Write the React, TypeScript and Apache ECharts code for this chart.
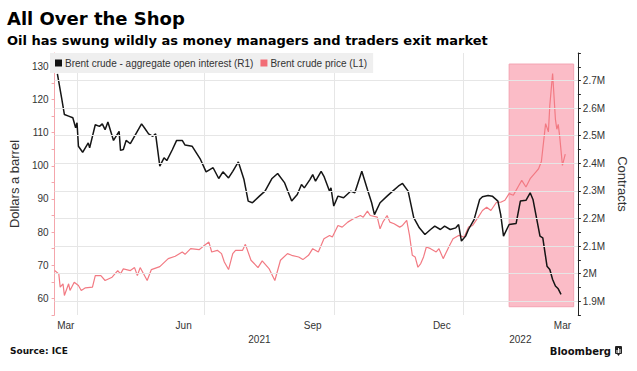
import React, { useEffect, useRef } from "react";
import * as echarts from "echarts";

const START_DATE = "2021-03-16";
const END_DATE = "2022-03-24";

const OI_NAME = "Brent crude - aggregate open interest (R1)";
const PRICE_NAME = "Brent crude price (L1)";

const oiDates = [
  "2021-03-18", "2021-03-21", "2021-03-23", "2021-03-26", "2021-03-29", "2021-03-31",
  "2021-04-01", "2021-04-02", "2021-04-05", "2021-04-09", "2021-04-10", "2021-04-14",
  "2021-04-17", "2021-04-19", "2021-04-21", "2021-04-23", "2021-04-27", "2021-05-01",
  "2021-05-02", "2021-05-04", "2021-05-06", "2021-05-09", "2021-05-17", "2021-05-19",
  "2021-05-22", "2021-05-25", "2021-05-27", "2021-05-30", "2021-06-02", "2021-06-04",
  "2021-06-08", "2021-06-11", "2021-06-15", "2021-06-17", "2021-06-22", "2021-06-28",
  "2021-07-02", "2021-07-07", "2021-07-11", "2021-07-14", "2021-07-18", "2021-07-21",
  "2021-07-25", "2021-07-29", "2021-08-01", "2021-08-04", "2021-08-09", "2021-08-13",
  "2021-08-18", "2021-08-22", "2021-08-27", "2021-09-01", "2021-09-05", "2021-09-08",
  "2021-09-10", "2021-09-14", "2021-09-16", "2021-09-18", "2021-09-22", "2021-09-24",
  "2021-09-28", "2021-09-29", "2021-10-01", "2021-10-04", "2021-10-08", "2021-10-13",
  "2021-10-16", "2021-10-21", "2021-10-25", "2021-10-28", "2021-10-30", "2021-11-03",
  "2021-11-08", "2021-11-12", "2021-11-16", "2021-11-19", "2021-11-23", "2021-11-27",
  "2021-12-01", "2021-12-05", "2021-12-09", "2021-12-12", "2021-12-16", "2021-12-19",
  "2021-12-23", "2021-12-27", "2021-12-29", "2021-12-31", "2022-01-03", "2022-01-05",
  "2022-01-09", "2022-01-13", "2022-01-15", "2022-01-19", "2022-01-22", "2022-01-26",
  "2022-01-28", "2022-01-30", "2022-02-03", "2022-02-08", "2022-02-11", "2022-02-15",
  "2022-02-18", "2022-02-20", "2022-02-25", "2022-02-27", "2022-03-02", "2022-03-04",
  "2022-03-06", "2022-03-08", "2022-03-10", "2022-03-12",
];
// millions of contracts
const oiValues = [
  2.724, 2.637, 2.577, 2.571, 2.565, 2.529,
  2.547, 2.462, 2.44, 2.474, 2.456, 2.54,
  2.534, 2.543, 2.522, 2.55, 2.483, 2.516,
  2.447, 2.45, 2.483, 2.471, 2.543, 2.529,
  2.507, 2.498, 2.507, 2.39, 2.42, 2.41,
  2.45, 2.483, 2.483, 2.466, 2.462, 2.414,
  2.369, 2.384, 2.345, 2.369, 2.347, 2.371,
  2.405, 2.341, 2.263, 2.257, 2.281, 2.299,
  2.345, 2.363, 2.329, 2.263, 2.287, 2.323,
  2.311, 2.341, 2.359, 2.335, 2.371, 2.353,
  2.299, 2.311, 2.245, 2.281, 2.275, 2.299,
  2.293, 2.371, 2.305, 2.257, 2.214, 2.257,
  2.281, 2.299, 2.317, 2.327, 2.299, 2.203,
  2.166, 2.142, 2.16, 2.172, 2.16, 2.172,
  2.16, 2.166, 2.178, 2.118, 2.136, 2.16,
  2.196, 2.269, 2.279, 2.283, 2.281, 2.263,
  2.214, 2.136, 2.178, 2.182, 2.263, 2.266,
  2.293, 2.269, 2.136, 2.13, 2.027, 2.015,
  1.979, 1.955, 1.945, 1.925,
];

const priceDates = [
  "2021-03-16", "2021-03-19", "2021-03-20", "2021-03-22", "2021-03-23", "2021-03-26",
  "2021-03-27", "2021-03-30", "2021-04-02", "2021-04-04", "2021-04-07", "2021-04-12",
  "2021-04-14", "2021-04-18", "2021-04-21", "2021-04-26", "2021-04-30", "2021-05-02",
  "2021-05-04", "2021-05-09", "2021-05-12", "2021-05-14", "2021-05-16", "2021-05-21",
  "2021-05-24", "2021-05-30", "2021-06-05", "2021-06-10", "2021-06-15", "2021-06-17",
  "2021-06-21", "2021-06-27", "2021-06-30", "2021-07-04", "2021-07-06", "2021-07-10",
  "2021-07-13", "2021-07-15", "2021-07-18", "2021-07-21", "2021-07-23", "2021-07-28",
  "2021-07-30", "2021-08-03", "2021-08-08", "2021-08-11", "2021-08-16", "2021-08-20",
  "2021-08-24", "2021-08-29", "2021-09-01", "2021-09-06", "2021-09-09", "2021-09-13",
  "2021-09-16", "2021-09-20", "2021-09-24", "2021-09-28", "2021-09-30", "2021-10-04",
  "2021-10-07", "2021-10-11", "2021-10-15", "2021-10-20", "2021-10-22", "2021-10-25",
  "2021-10-27", "2021-11-01", "2021-11-03", "2021-11-05", "2021-11-08", "2021-11-10",
  "2021-11-13", "2021-11-17", "2021-11-19", "2021-11-22", "2021-11-24", "2021-11-26",
  "2021-11-28", "2021-11-30", "2021-12-02", "2021-12-04", "2021-12-06", "2021-12-09",
  "2021-12-13", "2021-12-15", "2021-12-18", "2021-12-22", "2021-12-25", "2021-12-29",
  "2022-01-02", "2022-01-05", "2022-01-08", "2022-01-12", "2022-01-15", "2022-01-18",
  "2022-01-21", "2022-01-25", "2022-01-28", "2022-01-31", "2022-02-03", "2022-02-06",
  "2022-02-10", "2022-02-12", "2022-02-15", "2022-02-18", "2022-02-22", "2022-02-24",
  "2022-02-26", "2022-03-01", "2022-03-03", "2022-03-04", "2022-03-06", "2022-03-08",
  "2022-03-09", "2022-03-10", "2022-03-11", "2022-03-13", "2022-03-15",
];
// dollars a barrel
const priceValues = [
  68.4, 67.4, 63.4, 64.4, 60.9, 64.4,
  62.4, 64.9, 63.9, 62.4, 63.2, 63.4,
  66.9, 66.9, 65.4, 66.4, 68.4, 67.4,
  68.9, 68.4, 69.3, 66.9, 69.3, 65.4,
  68.7, 69.6, 72.0, 72.7, 74.0, 73.3,
  75.0, 74.7, 75.7, 77.0, 74.0, 74.5,
  73.5, 71.0, 68.7, 73.5, 74.5, 74.5,
  76.3, 71.5, 69.3, 71.3, 68.9, 65.4,
  71.5, 73.5, 73.0, 72.5, 71.7, 73.0,
  75.0, 74.0, 78.0, 79.0, 78.5, 82.0,
  81.5, 83.0, 84.0, 85.0, 84.5, 86.3,
  85.0, 84.5, 81.0, 83.0, 85.0, 83.0,
  82.5, 81.5, 82.0, 83.5, 79.0, 73.0,
  72.5, 69.4, 70.5, 72.5, 75.5, 75.0,
  74.0, 75.0, 72.0, 75.5, 78.0, 79.0,
  78.5, 81.5, 82.0, 84.5, 86.5, 87.5,
  86.5, 89.0, 89.0, 89.6, 91.6, 91.1,
  94.1, 95.6, 93.6, 96.1, 98.1, 99.1,
  101.3, 112.7, 110.2, 118.2, 127.8, 114.0,
  111.0, 112.5, 109.0, 100.1, 103.5,
];

const leftTickLabels = [60, 70, 80, 90, 100, 110, 120, 130];
const rightTickLabels = [1.9, 2, 2.1, 2.2, 2.3, 2.4, 2.5, 2.6, 2.7]; // millions
const labeledMonths = ["Mar", "Jun", "Sep", "Dec"];
const gridMonths = ["Jan", "Apr", "Jul", "Oct"];
const highlightStart = "2022-02-03";
const highlightEnd = "2022-03-21";
const highlightTop = 2.76; // millions, right axis
const highlightBottom = 1.88;

const MONTHS = ["Jan", "Feb", "Mar", "Apr", "May", "Jun", "Jul", "Aug", "Sep", "Oct", "Nov", "Dec"];

function buildDays(start: string, end: string): string[] {
  const out: string[] = [];
  const d = new Date(start + "T00:00:00Z");
  const e = new Date(end + "T00:00:00Z");
  while (d.getTime() <= e.getTime()) {
    out.push(d.toISOString().slice(0, 10));
    d.setUTCDate(d.getUTCDate() + 1);
  }
  return out;
}

const AXIS_FONT = '"Liberation Sans", Arial, sans-serif';
const HEAD_FONT = '"DejaVu Sans", sans-serif';

export default function App() {
  const ref = useRef<HTMLDivElement>(null);

  useEffect(() => {
    if (!ref.current) return;
    const chart = echarts.init(ref.current, undefined, { renderer: "svg" });

    const days = buildDays(START_DATE, END_DATE);
    const last = days.length - 1;

    const monthLabelIdx = new Map<number, string>();
    const yearLabelIdx = new Map<number, string>();
    const gridIdx = new Set<number>();
    const monthStarts: { key: string; idx: number }[] = [];
    const yearStarts: { key: string; idx: number }[] = [];
    days.forEach((d, i) => {
      const ym = d.slice(0, 7);
      const y = d.slice(0, 4);
      if (!monthStarts.length || monthStarts[monthStarts.length - 1].key !== ym) monthStarts.push({ key: ym, idx: i });
      if (!yearStarts.length || yearStarts[yearStarts.length - 1].key !== y) yearStarts.push({ key: y, idx: i });
      const m = MONTHS[parseInt(d.slice(5, 7), 10) - 1];
      if (d.slice(8, 10) === "01" && gridMonths.includes(m)) gridIdx.add(i);
    });
    monthStarts.forEach((ms, k) => {
      const m = MONTHS[parseInt(ms.key.slice(5, 7), 10) - 1];
      if (!labeledMonths.includes(m)) return;
      const end = k + 1 < monthStarts.length ? monthStarts[k + 1].idx : last;
      monthLabelIdx.set(Math.round((ms.idx + end) / 2), m);
    });
    yearStarts.forEach((ys, k) => {
      const end = k + 1 < yearStarts.length ? yearStarts[k + 1].idx : last;
      yearLabelIdx.set(Math.round((ys.idx + end) / 2), ys.key);
    });

    const oiData = oiDates.map((d, i) => [d, oiValues[i] * 1e6]);
    const priceData = priceDates.map((d, i) => [d, priceValues[i]]);

    chart.setOption({
      animation: false,
      backgroundColor: "#ffffff",
      title: {
        text: "All Over the Shop",
        subtext: "Oil has swung wildly as money managers and traders exit market",
        left: 7,
        top: 9,
        padding: 0,
        itemGap: 7,
        textStyle: { fontFamily: HEAD_FONT, fontWeight: "bold", fontSize: 18, color: "#000" },
        subtextStyle: { fontFamily: HEAD_FONT, fontWeight: "bold", fontSize: 13, color: "#000" },
      },
      legend: {
        data: [OI_NAME, PRICE_NAME],
        left: 50,
        top: 53,
        icon: "rect",
        itemWidth: 7,
        itemHeight: 7,
        itemGap: 7,
        padding: [5, 6, 5, 5],
        backgroundColor: "#efefef",
        textStyle: { fontFamily: AXIS_FONT, fontSize: 10, color: "#333", padding: [0, 0, 0, -2] },
        selectedMode: false,
      },
      grid: { left: 48, right: 55, top: 53, bottom: 56, containLabel: false },
      xAxis: [
        {
          type: "category",
          data: days,
          boundaryGap: false,
          axisLine: { show: false },
          axisTick: { show: false },
          axisLabel: {
            interval: (i: number) => monthLabelIdx.has(i),
            formatter: (_v: string, i: number) => monthLabelIdx.get(i) || "",
            color: "#333",
            fontSize: 10,
            fontFamily: AXIS_FONT,
            margin: 5,
          },
          splitLine: {
            show: true,
            interval: (i: number) => gridIdx.has(i),
            lineStyle: { color: "#e6e6e6", width: 1 },
          },
        },
        {
          type: "category",
          data: days,
          boundaryGap: false,
          position: "bottom",
          offset: 14,
          axisLine: { show: false },
          axisTick: { show: false },
          splitLine: { show: false },
          axisLabel: {
            interval: (i: number) => yearLabelIdx.has(i),
            formatter: (_v: string, i: number) => yearLabelIdx.get(i) || "",
            color: "#333",
            fontSize: 10,
            fontFamily: AXIS_FONT,
            margin: 5,
          },
        },
      ],
      yAxis: [
        {
          type: "value",
          position: "left",
          min: 55,
          max: 134,
          interval: 5,
          axisLine: { show: true, lineStyle: { color: "#f4a6ac" } },
          axisTick: { show: true, length: 3, lineStyle: { color: "#f4a6ac" } },
          axisLabel: {
            formatter: (v: number) => (leftTickLabels.includes(v) ? String(v) : ""),
            color: "#333",
            fontSize: 10,
            fontFamily: AXIS_FONT,
            margin: 6,
          },
          splitLine: { show: false },
          name: "Dollars a barrel",
          nameLocation: "middle",
          nameGap: 27,
          nameTextStyle: { fontSize: 13, color: "#333", fontFamily: AXIS_FONT },
        },
        {
          type: "value",
          position: "right",
          min: 1.85e6,
          max: 2.8e6,
          interval: 0.05e6,
          axisLine: { show: true, lineStyle: { color: "#222" } },
          axisTick: { show: true, length: 3, lineStyle: { color: "#222" } },
          axisLabel: {
            formatter: (v: number) => {
              const m = rightTickLabels.find((t) => Math.abs(t * 1e6 - v) < 1);
              return m === undefined ? "" : `${m}M`;
            },
            color: "#333",
            fontSize: 10,
            fontFamily: AXIS_FONT,
            margin: 5,
          },
          splitLine: { show: false },
          name: "Contracts",
          nameLocation: "middle",
          nameRotate: -90,
          nameGap: 33,
          nameTextStyle: { fontSize: 13, color: "#333", fontFamily: AXIS_FONT },
        },
      ],
      series: [
        {
          name: "bands",
          type: "line",
          xAxisIndex: 0,
          yAxisIndex: 1,
          data: [],
          z: 1,
          silent: true,
          markLine: {
            silent: true,
            symbol: ["none", "none"],
            label: { show: false },
            lineStyle: { color: "#e6e6e6", type: "solid", width: 1 },
            data: rightTickLabels.map((t) => ({ yAxis: t * 1e6 })),
          },
          markArea: {
            silent: true,
            itemStyle: { color: "#fbbcc7", borderColor: "#f3a3b2", borderWidth: 1 },
            data: [[{ xAxis: highlightStart, yAxis: highlightTop * 1e6 }, { xAxis: highlightEnd, yAxis: highlightBottom * 1e6 }]],
          },
        },
        {
          name: PRICE_NAME,
          type: "line",
          xAxisIndex: 0,
          yAxisIndex: 0,
          data: priceData,
          showSymbol: false,
          z: 3,
          itemStyle: { color: "#f26d76" },
          lineStyle: { color: "#f27a83", width: 1.2 },
        },
        {
          name: OI_NAME,
          type: "line",
          xAxisIndex: 0,
          yAxisIndex: 1,
          data: oiData,
          showSymbol: false,
          z: 4,
          itemStyle: { color: "#111" },
          lineStyle: { color: "#151515", width: 1.5 },
        },
      ],
      graphic: [
        {
          type: "text",
          left: 10,
          top: 346,
          style: { text: "Source: ICE", font: 'bold 9px "DejaVu Sans", sans-serif', fill: "#111" },
        },
        {
          type: "text",
          right: 26,
          top: 346,
          style: { text: "Bloomberg", font: 'bold 10px "DejaVu Sans", sans-serif', fill: "#111" },
        },
        {
          type: "group",
          left: 615,
          top: 346,
          children: [
            { type: "rect", shape: { x: 0, y: 0, width: 7, height: 8, r: 1 }, style: { fill: "#222" } },
            { type: "rect", shape: { x: 1.5, y: 4, width: 1, height: 3 }, style: { fill: "#fff" } },
            { type: "rect", shape: { x: 3, y: 2, width: 1, height: 5 }, style: { fill: "#fff" } },
            { type: "rect", shape: { x: 4.5, y: 3, width: 1, height: 4 }, style: { fill: "#fff" } },
            { type: "polygon", shape: { points: [[2, 8], [5, 8], [3.5, 10]] }, style: { fill: "#222" } },
          ],
        },
      ],
    });

    return () => chart.dispose();
  }, []);

  return (
    <div
      ref={ref}
      style={{ position: "fixed", left: 0, top: 0, width: 637, height: 371, background: "#fff" }}
    />
  );
}
